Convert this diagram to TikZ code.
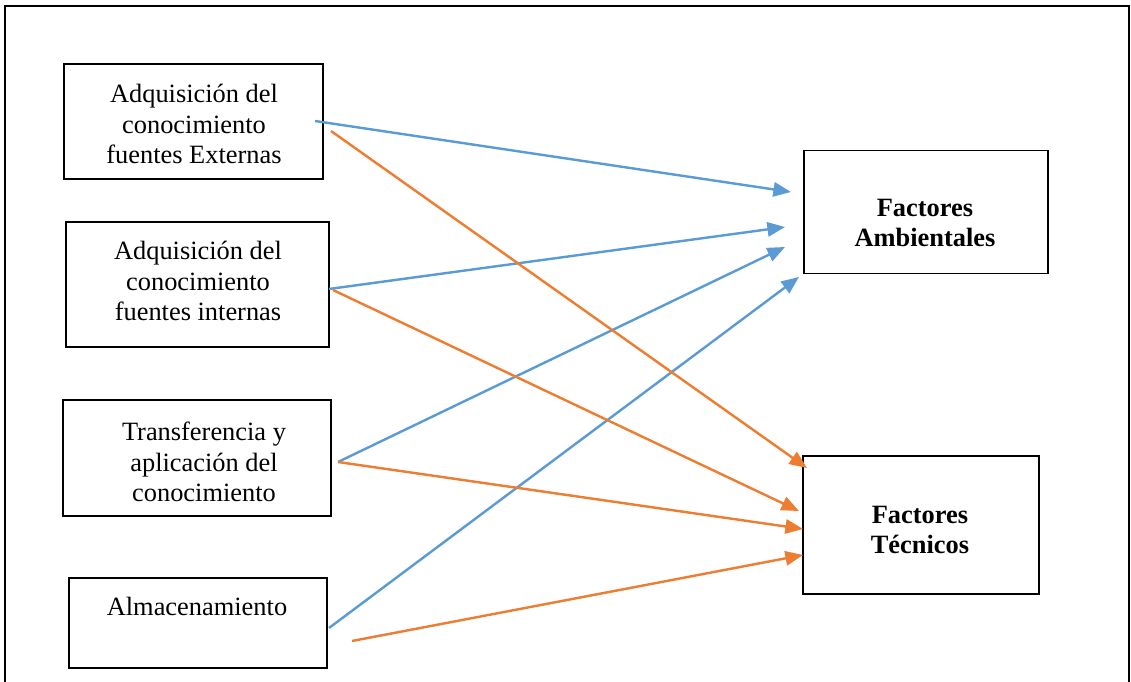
\documentclass[tikz,border=0pt]{standalone}
\usepackage{fontspec}
\setmainfont{Liberation Serif}
\usetikzlibrary{arrows.meta}

\definecolor{azul}{HTML}{5B9BD5}
\definecolor{naranja}{HTML}{ED7D31}

\begin{document}
\begin{tikzpicture}[x=0.4545pt, y=-0.4545pt,
    >={Triangle[length=8pt, width=6.5pt]},
    caja/.style={draw, line width=0.6pt, inner sep=0pt},
    texto/.style={align=center, font=\fontsize{12pt}{13.8pt}\selectfont, inner sep=0pt},
    azulflecha/.style={->, azul, line width=1.1pt},
    naranjaflecha/.style={->, naranja, line width=1.1pt}]

    \useasboundingbox (0,0) rectangle (1131,682);

    % --- Outer frame (bottom edge falls outside the page) ---
    \draw[line width=0.9pt] (5,700) -- (5,6) -- (1129,6) -- (1129,700);

    % --- Left boxes ---
    \node[caja, minimum width=259*0.4545pt, minimum height=115*0.4545pt] (ext) at (193.5,121.5) {};
    \node[caja, minimum width=263*0.4545pt, minimum height=125*0.4545pt] (int) at (197.5,284.5) {};
    \node[caja, minimum width=268*0.4545pt, minimum height=116*0.4545pt] (tra) at (197,458) {};
    \node[caja, minimum width=258*0.4545pt, minimum height=90*0.4545pt] (alm) at (198,623) {};

    \node[texto] (extT) at (194,124) {Adquisición del\\conocimiento\\fuentes Externas};
    \node[texto] (intT) at (198,281) {Adquisición del\\conocimiento\\fuentes internas};
    \node[texto] (traT) at (204,462) {Transferencia y\\aplicación del\\conocimiento};
    \node[texto] (almT) at (197,606) {Almacenamiento};

    % --- Right boxes ---
    \node[caja, minimum width=244*0.4545pt, minimum height=123*0.4545pt] (amb) at (926,212) {};
    \node[caja, minimum width=236*0.4545pt, minimum height=138*0.4545pt] (tec) at (921,525) {};

    \node[texto, font=\fontsize{12pt}{13.8pt}\selectfont\bfseries] (ambT) at (925,223) {Factores\\Ambientales};
    \node[texto, font=\fontsize{12pt}{13.8pt}\selectfont\bfseries] (tecT) at (920,530) {Factores\\Técnicos};

    % --- Start and end points of the arrows ---
    \coordinate (s1a) at (315,121);
    \coordinate (s1n) at (331,131);
    \coordinate (s2a) at (329,289);
    \coordinate (s2n) at (333,290);
    \coordinate (s3) at (338,462);
    \coordinate (s4a) at (329,628);
    \coordinate (s4n) at (352,641);

    \coordinate (e1a) at (791,192);
    \coordinate (e2a) at (785,227);
    \coordinate (e3a) at (785,247);
    \coordinate (e4a) at (799,277);
    \coordinate (e1n) at (807,468);
    \coordinate (e2n) at (799,511);
    \coordinate (e3n) at (803,529);
    \coordinate (e4n) at (803,555);

    % --- Arrows to Factores Ambientales ---
    \draw[azulflecha] (s1a) -- (e1a);
    \draw[azulflecha] (s2a) -- (e2a);
    \draw[azulflecha] (s3) -- (e3a);
    \draw[azulflecha] (s4a) -- (e4a);

    % --- Arrows to Factores Técnicos ---
    \draw[naranjaflecha] (s1n) -- (e1n);
    \draw[naranjaflecha] (s2n) -- (e2n);
    \draw[naranjaflecha] (s3) -- (e3n);
    \draw[naranjaflecha] (s4n) -- (e4n);

\end{tikzpicture}
\end{document}
